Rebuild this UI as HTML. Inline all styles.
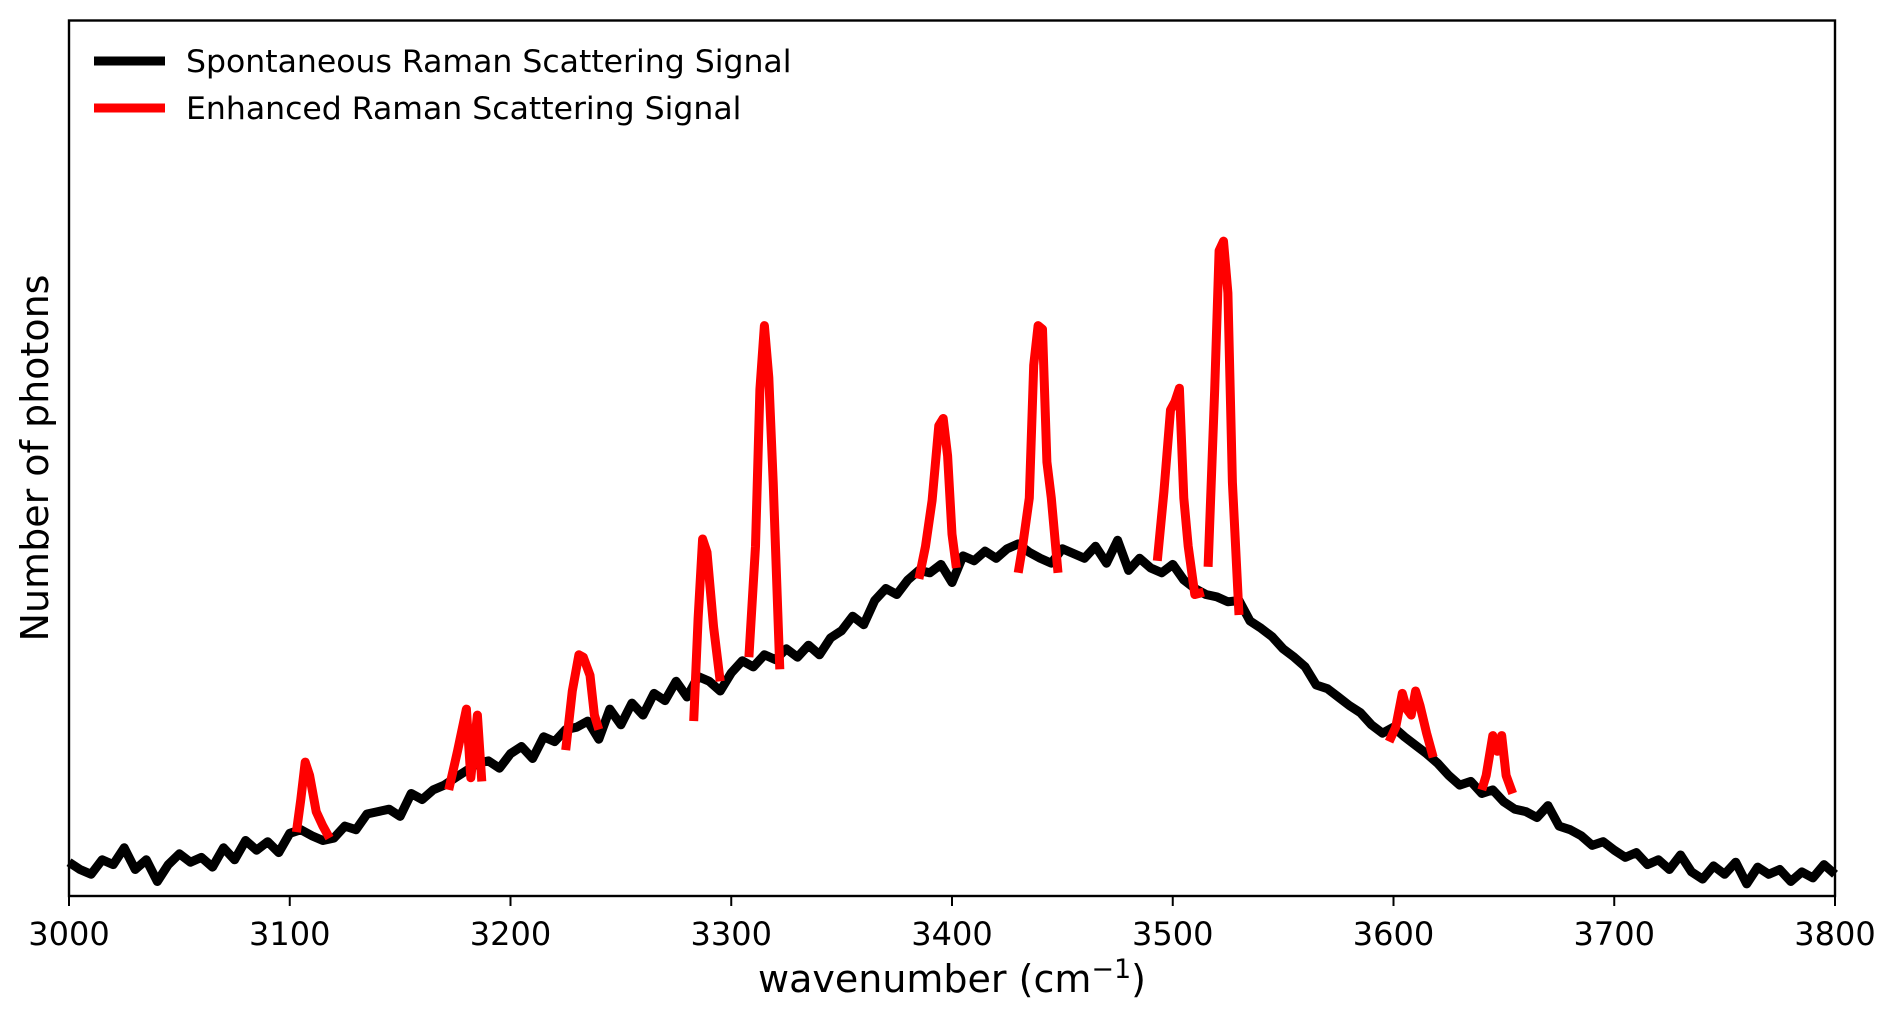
<!DOCTYPE html>
<html><head><meta charset="utf-8"><style>
body{margin:0;background:#fff}
svg{display:block;font-family:"DejaVu Sans","Liberation Sans",sans-serif}
</style></head><body>
<svg id="chart" width="1892" height="1019" viewBox="0 0 1892 1019">
<g id="plot"></g>
<rect x="69" y="20.5" width="1766" height="875.5" fill="none" stroke="#000" stroke-width="2.4"/>
<g id="ticks"></g>
<text x="952" y="992" font-size="38" text-anchor="middle">wavenumber (cm<tspan dy="-14" font-size="27">−1</tspan><tspan dy="14">)</tspan></text>
<text transform="translate(48,458) rotate(-90)" font-size="38" text-anchor="middle">Number of photons</text>
<g>
<line x1="94" y1="61" x2="165" y2="61" stroke="#000" stroke-width="9"/>
<text x="186" y="72" font-size="31.5">Spontaneous Raman Scattering Signal</text>
<line x1="94" y1="108" x2="165" y2="108" stroke="#f00" stroke-width="9"/>
<text x="186" y="119" font-size="31.5">Enhanced Raman Scattering Signal</text>
</g>
</svg>
<script>
const xTicks=[3000,3100,3200,3300,3400,3500,3600,3700,3800];
const baseX=[];for(let v=3000;v<=3800;v+=5)baseX.push(v);
const baseY=[28,22,18,30,26,40,22,30,12,26,35,28,32,24,40,30,46,38,45,36,52,55,50,46,48,58,55,68,70,72,66,85,80,88,92,98,104,110,112,106,118,124,114,132,128,138,140,145,130,155,142,160,150,168,162,178,165,182,178,170,185,195,190,200,196,205,198,208,200,214,220,232,225,245,255,250,262,270,268,275,260,282,278,286,280,288,292,285,280,276,288,284,280,290,276,295,270,280,272,268,275,262,255,250,248,244,245,228,222,215,205,198,190,175,172,165,158,152,142,135,140,132,125,118,110,100,92,95,85,88,78,72,70,65,75,58,55,50,42,45,38,32,36,26,30,22,34,20,14,25,18,28,10,24,18,22,12,20,15,26,18];
const peak1X=[3103,3105,3107,3109,3112,3115,3118],peak1Y=[53,80,111,100,70,58,48];
const peak2X=[3172,3176,3180,3182,3185,3187],peak2Y=[88,120,155,98,150,95];
const peak3X=[3225,3228,3231,3233,3236,3238,3240],peak3Y=[121,170,200,198,183,150,138];
const peak4X=[3283,3285,3287,3289,3292,3295],peak4Y=[145,230,296,285,223,178];
const peak5X=[3308,3311,3313,3315,3317,3319,3322],peak5Y=[198,290,420,473,430,343,188];
const peak6X=[3385,3388,3391,3394,3396,3398,3400,3402],peak6Y=[263,290,328,390,396,365,300,272];
const peak7X=[3430,3432,3435,3437,3439,3441,3443,3445,3448],peak7Y=[268,290,330,440,473,470,360,330,268];
const peak8X=[3493,3496,3499,3501,3503,3505,3507,3510,3514],peak8Y=[278,335,403,410,421,330,290,250,252];
const peak9X=[3516,3519,3521,3523,3525,3527,3530],peak9Y=[273,420,535,543,500,343,233];
const peak10X=[3598,3601,3604,3606,3608,3610,3612,3615,3618],peak10Y=[128,140,168,155,150,170,158,135,115];
const peak11X=[3640,3642,3645,3647,3649,3651,3654],peak11Y=[88,100,133,120,133,100,85];
const peaksX=[peak1X,peak2X,peak3X,peak4X,peak5X,peak6X,peak7X,peak8X,peak9X,peak10X,peak11X];
const peaksY=[peak1Y,peak2Y,peak3Y,peak4Y,peak5Y,peak6Y,peak7Y,peak8Y,peak9Y,peak10Y,peak11Y];

const NS='http://www.w3.org/2000/svg';
const xs=v=>69+(v-3000)/800*1766;
const ys=v=>896-v/726*875.5;
const plot=document.getElementById('plot'),ticks=document.getElementById('ticks');
function line(xa,ya,color,name){
  const p=document.createElementNS(NS,'path');
  p.setAttribute('d',xa.map((x,i)=>(i?'L':'M')+xs(x).toFixed(1)+','+ys(ya[i]).toFixed(1)).join(''));
  p.setAttribute('fill','none');p.setAttribute('stroke',color);p.setAttribute('stroke-width','9');
  p.setAttribute('stroke-linejoin','round');
  
  
  plot.appendChild(p);
}
line(baseX,baseY,'#000','spontaneous-series');
peaksX.forEach((px,i)=>line(px,peaksY[i],'#f00','enhanced-peak-'+(i+1)));
xTicks.forEach(t=>{
  const l=document.createElementNS(NS,'line');
  l.setAttribute('x1',xs(t));l.setAttribute('x2',xs(t));l.setAttribute('y1',896);l.setAttribute('y2',906);
  l.setAttribute('stroke','#000');l.setAttribute('stroke-width','2');
  
  
  ticks.appendChild(l);
  const tx=document.createElementNS(NS,'text');
  tx.setAttribute('x',xs(t));tx.setAttribute('y',945);tx.setAttribute('font-size','32');tx.setAttribute('text-anchor','middle');
  tx.textContent=t;
  
  
  ticks.appendChild(tx);
});
</script>
</body></html>
